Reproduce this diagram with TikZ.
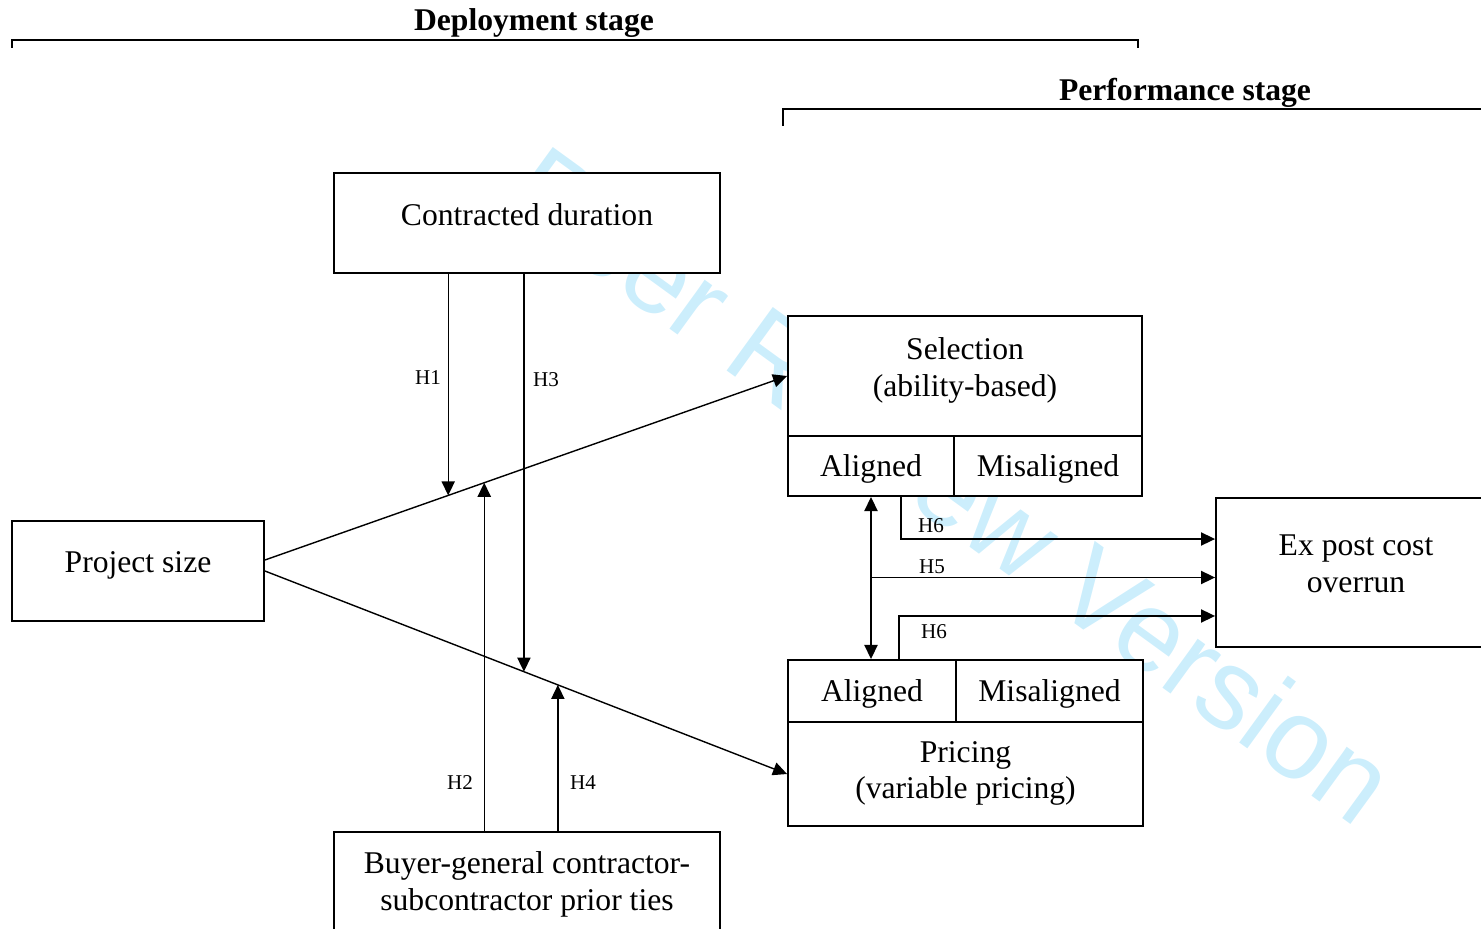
\documentclass[tikz,border=0pt]{standalone}
\usepackage{fontspec}
\setmainfont{Liberation Serif}
\newfontfamily\wmfont{Liberation Sans}
\usepackage{xcolor}
\usetikzlibrary{arrows.meta,calc}

\definecolor{wm}{RGB}{204,238,252}

\tikzset{
	box/.style={draw, fill=white, line width=1.1pt, inner sep=0pt, align=center, text depth=10pt, font=\fontsize{18}{21}\selectfont},
	cell/.style={draw, fill=white, line width=1.1pt, inner sep=0pt, text depth=0pt, font=\fontsize{18}{21}\selectfont},
	hyp/.style={inner sep=0pt, font=\fontsize{12}{14}\selectfont},
	stage/.style={inner sep=0pt, font=\fontsize{18}{21}\selectfont\bfseries},
	link/.style={line width=0.8pt},
	arr/.style={link, -{Triangle[length=8pt,width=7.5pt]}},
	darr/.style={link, {Triangle[length=8pt,width=7.5pt]}-{Triangle[length=8pt,width=7.5pt]}}
}

\begin{document}
\begin{tikzpicture}[x=0.02cm, y=-0.02cm]
	\useasboundingbox (0,0) rectangle (1481,929);
	% watermark
	\node[rotate=-36, text=wm, font=\wmfont\fontsize{65}{70}\selectfont] (wmark) at (952,484) {Peer Review Version};

	% stages
	\draw[link] (12,48) -- (12,40) -- (1138,40) -- (1138,48);
	\node[stage] (deploy) at (534,23) {Deployment stage};
	\draw[link] (783,126) -- (783,109) -- (1495,109);
	\node[stage] (perform) at (1185,93) {Performance stage};

	% boxes
	\node[box, minimum width=7.72cm, minimum height=2cm] (contract) at (527,223) {Contracted duration};
	\node[box, minimum width=5.04cm, minimum height=2cm] (size) at (138,571) {Project size};
	\node[box, text depth=2pt, minimum width=7.72cm, minimum height=2.04cm] (buyer) at (527,883) {Buyer-general contractor-\\subcontractor prior ties};
	\node[box, minimum width=7.08cm, minimum height=2.4cm] (sel) at (965,376) {Selection\\(ability-based)};
	\node[cell, minimum width=3.32cm, minimum height=1.2cm] (selAl) at (871,466) {Aligned};
	\node[cell, minimum width=3.76cm, minimum height=1.2cm] (selMis) at (1048,466) {Misaligned};
	\node[cell, minimum width=3.36cm, minimum height=1.24cm] (pricAl) at (872,691) {Aligned};
	\node[cell, minimum width=3.74cm, minimum height=1.24cm] (pricMis) at (1049.5,691) {Misaligned};
	\node[box, text depth=4.5pt, minimum width=7.1cm, minimum height=2.08cm] (pric) at (965.5,774) {Pricing\\(variable pricing)};
	\node[box, minimum width=5.6cm, minimum height=2.98cm] (cost) at (1356,572.5) {Ex post cost\\overrun};

	% size to stages
	\coordinate (sizeUp) at ([yshift=0.22cm]size.east);
	\draw[arr] (sizeUp) -- (sel.west);
	\draw[arr] (size.east) -- (pric.west);

	% moderators
	\coordinate (h1) at ($(sizeUp)!0.351!(sel.west)$);
	\coordinate (h2) at ($(sizeUp)!0.42!(sel.west)$);
	\coordinate (h3) at ($(size.east)!0.496!(pric.west)$);
	\coordinate (h4) at ($(size.east)!0.561!(pric.west)$);
	\draw[arr] (contract.south -| h1) -- (h1);
	\draw[arr] (buyer.north -| h2) -- (h2);
	\draw[arr] (contract.south -| h3) -- (h3);
	\draw[arr] (buyer.north -| h4) -- (h4);
	\node[hyp] (lh1) at (428,378) {H1};
	\node[hyp] (lh3) at (546,380) {H3};
	\node[hyp] (lh2) at (460,783) {H2};
	\node[hyp] (lh4) at (583,783) {H4};

	% alignment to cost overrun
	\draw[darr] (selAl.south) -- (selAl.south |- pricAl.north);
	\coordinate (h5) at ([yshift=-0.1cm]cost.west);
	\draw[arr] (selAl.south |- h5) -- (h5);
	\draw[arr] ([xshift=0.6cm]selAl.south) |- ([yshift=0.67cm]cost.west);
	\draw[arr] ([xshift=0.54cm]pricAl.north) |- ([yshift=-0.87cm]cost.west);
	\node[hyp] (lh6a) at (931,526) {H6};
	\node[hyp] (lh5) at (932,567) {H5};
	\node[hyp] (lh6b) at (934,632) {H6};
\end{tikzpicture}
\end{document}
